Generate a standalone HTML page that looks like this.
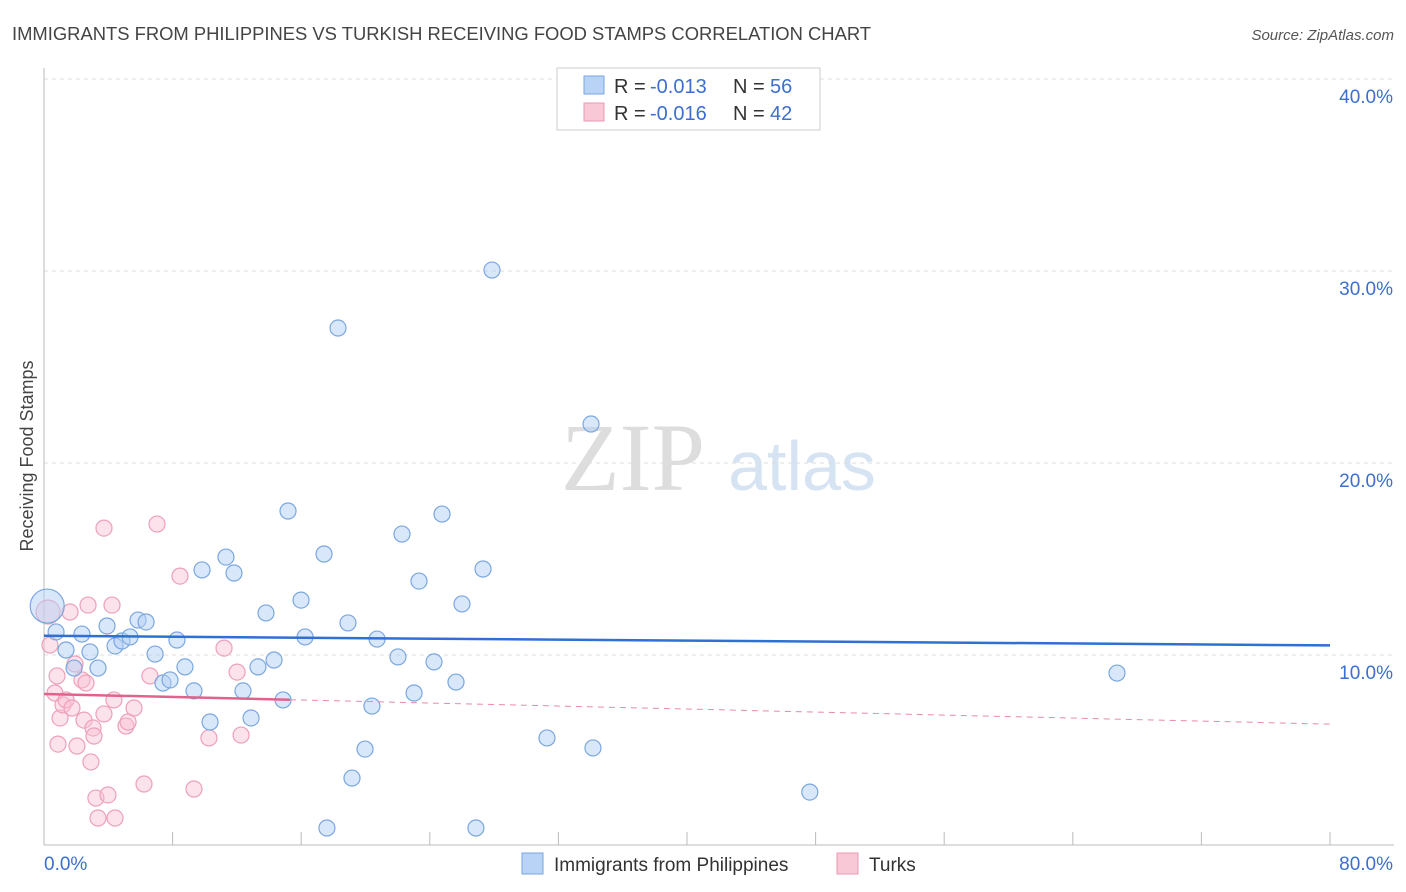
<!DOCTYPE html>
<html><head><meta charset="utf-8"><style>
body{margin:0;background:#fff;font-family:"Liberation Sans",sans-serif;}
</style></head><body>
<svg id="chart" width="1406" height="892" xmlns="http://www.w3.org/2000/svg" style="display:block">
<text x="12" y="40" font-size="18.4" fill="#444">IMMIGRANTS FROM PHILIPPINES VS TURKISH RECEIVING FOOD STAMPS CORRELATION CHART</text>
<text x="1394" y="40" font-size="15" fill="#555" font-style="italic" text-anchor="end">Source: ZipAtlas.com</text>
<g>
<text x="633" y="490" font-size="96" fill="#ddd" font-family="Liberation Serif" text-anchor="middle">ZIP</text>
<text x="802" y="490" font-size="70" fill="#d6e3f3" text-anchor="middle">atlas</text>
</g>
<g id="grid"></g>
<g id="axes"></g>
<text transform="translate(33,456) rotate(-90)" font-size="18" fill="#444" text-anchor="middle">Receiving Food Stamps</text>
<g id="marks"></g>
<g>
<rect x="557" y="68" width="263" height="62" fill="#fff" stroke="#ccc"/>
<rect x="584" y="76" width="20" height="18" fill="#b8d3f5" stroke="#7aa7e0"/>
<text x="614" y="93" font-size="20" fill="#333">R =</text>
<text x="650" y="93" font-size="20" fill="#3b6fd0">-0.013</text>
<text x="733" y="93" font-size="20" fill="#333">N =</text>
<text x="770" y="93" font-size="20" fill="#3b6fd0">56</text>
<rect x="584" y="103" width="20" height="18" fill="#f8c8d6" stroke="#e89ab2"/>
<text x="614" y="120" font-size="20" fill="#333">R =</text>
<text x="650" y="120" font-size="20" fill="#3b6fd0">-0.016</text>
<text x="733" y="120" font-size="20" fill="#333">N =</text>
<text x="770" y="120" font-size="20" fill="#3b6fd0">42</text>
</g>
<g>
<rect x="522" y="853" width="21" height="21" fill="#b8d3f5" stroke="#7aa7e0"/>
<text x="554" y="871" font-size="19" fill="#333">Immigrants from Philippines</text>
<rect x="837" y="853" width="21" height="21" fill="#f8c8d6" stroke="#e89ab2"/>
<text x="869" y="871" font-size="19" fill="#333">Turks</text>
</g>
</svg>
<script>
const yTicks=[10,20,30,40];
const yTickLabels=["10.0%","20.0%","30.0%","40.0%"];
const blueX=[0.2,0.75,1.37,1.87,2.36,2.86,3.36,3.92,4.42,4.85,5.35,5.85,6.35,6.91,7.40,7.84,8.27,8.77,9.33,9.83,10.33,11.32,11.82,12.38,12.88,13.31,13.81,14.31,14.87,15.18,15.99,16.24,17.42,17.60,18.29,18.91,19.16,19.97,20.40,20.72,22.02,22.27,23.02,23.33,24.26,24.76,25.63,26.00,26.87,27.31,27.87,31.29,34.03,34.15,47.64,66.75];
const blueY=[12.55,11.20,10.26,9.32,11.09,10.16,9.32,11.51,10.47,10.73,10.94,11.82,11.72,10.05,8.54,8.70,10.78,9.38,8.13,14.43,6.51,15.10,14.27,8.13,6.72,9.38,12.19,9.74,7.66,17.50,12.86,10.94,15.26,0.99,27.03,11.67,3.59,5.10,7.34,10.83,9.90,16.30,8.02,13.85,9.64,17.34,8.59,12.66,0.99,14.48,30.05,5.68,22.03,5.16,2.86,9.06];
const pinkX=[0.25,0.37,0.68,0.81,0.87,1.0,1.18,1.37,1.62,1.74,1.93,2.05,2.36,2.49,2.61,2.74,2.92,3.05,3.11,3.23,3.36,3.73,3.73,3.98,4.23,4.35,4.42,5.10,5.23,5.60,6.22,6.59,7.03,8.46,9.33,10.26,11.20,12.01,12.26];
const pinkY=[12.24,10.52,8.02,8.91,5.36,6.72,7.40,7.66,12.24,7.24,9.53,5.26,8.70,6.61,8.54,12.60,4.43,6.20,5.78,2.55,1.51,16.61,6.93,2.71,12.60,7.66,1.51,6.30,6.51,7.24,3.28,8.91,16.82,14.11,3.02,5.68,10.36,9.11,5.83];
const blueTrend=[11.0,10.5];
const pinkTrend=[7.97,6.4];
const NS="http://www.w3.org/2000/svg";
const X0=44,X1=1330,Y0=847,Y1=79;
const sx=v=>X0+(v/80)*(X1-X0);
const sy=v=>Y0-(v/40)*(Y0-Y1);
function mk(tag,attrs,parent){const e=document.createElementNS(NS,tag);for(const k in attrs)e.setAttribute(k,attrs[k]);parent.appendChild(e);return e;}
const grid=document.getElementById('grid'),axes=document.getElementById('axes'),marks=document.getElementById('marks');
yTicks.forEach((t,i)=>{
 const l=mk('line',{x1:X0,x2:1394,y1:sy(t),y2:sy(t),stroke:'#ddd','stroke-dasharray':'4,4'},grid);
 
 
 const tx=mk('text',{x:1393,y:sy(t)+24,'font-size':19,fill:'#3b6fd0','text-anchor':'end'},grid);
 tx.textContent=yTickLabels[i];
 
 
});
const ax=mk('line',{x1:X0,x2:X0,y1:68,y2:845,stroke:'#bbb'},axes);


const bx=mk('line',{x1:X0,x2:1394,y1:845,y2:845,stroke:'#bbb'},axes);


for(let i=0;i<=10;i++){
 const t=mk('line',{x1:sx(i*8),x2:sx(i*8),y1:832,y2:845,stroke:'#bbb'},axes);
 
 
}
const xl=mk('text',{x:44,y:870,'font-size':19,fill:'#3b6fd0'},axes);xl.textContent='0.0%';


const xr=mk('text',{x:1393,y:870,'font-size':19,fill:'#3b6fd0','text-anchor':'end'},axes);xr.textContent='80.0%';


pinkX.forEach((x,i)=>{
 const c=mk('circle',{cx:sx(x),cy:sy(pinkY[i]),r:i==0?12:8,fill:'rgba(248,190,210,0.45)',stroke:'#eea0b9','stroke-width':1.2},marks);
 
 
});
blueX.forEach((x,i)=>{
 const c=mk('circle',{cx:sx(x),cy:sy(blueY[i]),r:i==0?17:8,fill:'rgba(180,208,245,0.5)',stroke:'#7aa7e0','stroke-width':1.2},marks);
 
 
});
const bt=mk('line',{x1:sx(0),x2:sx(80),y1:sy(blueTrend[0]),y2:sy(blueTrend[1]),stroke:'#2f6fd6','stroke-width':2.5},marks);


const pm=pinkTrend[0]+(pinkTrend[1]-pinkTrend[0])*(15.3/80);
const pt1=mk('line',{x1:sx(0),x2:sx(15.3),y1:sy(pinkTrend[0]),y2:sy(pm),stroke:'#e0628d','stroke-width':2.5},marks);


const pt2=mk('line',{x1:sx(15.3),x2:sx(80),y1:sy(pm),y2:sy(pinkTrend[1]),stroke:'#e88aa8','stroke-width':1,'stroke-dasharray':'6,5'},marks);


</script>
</body></html>
